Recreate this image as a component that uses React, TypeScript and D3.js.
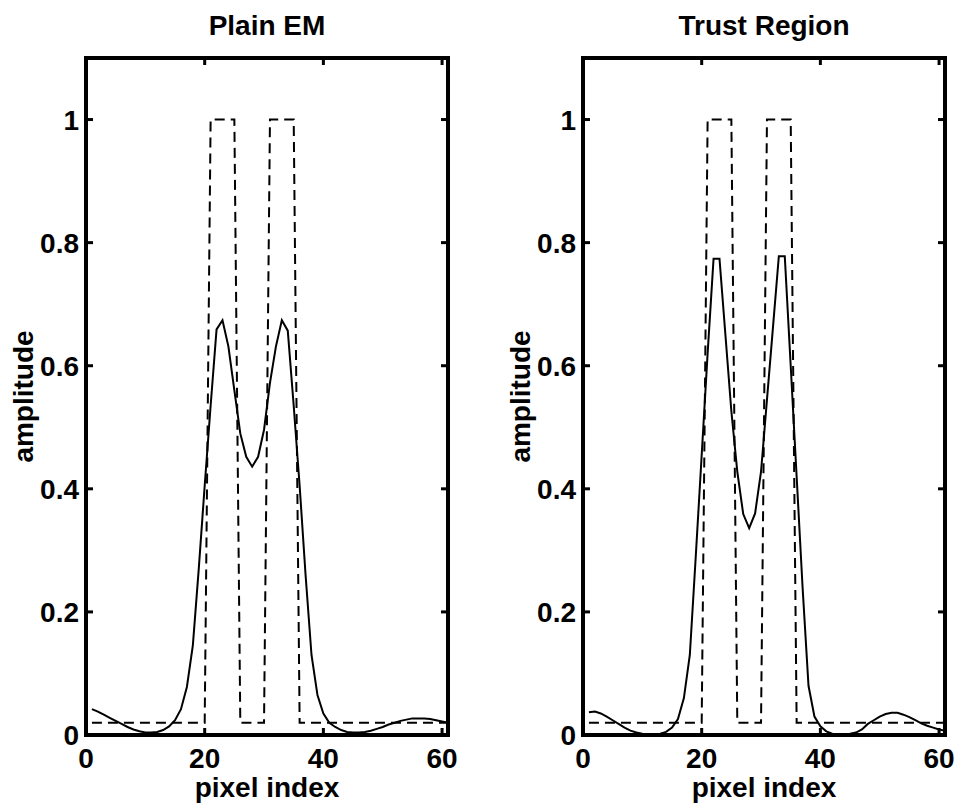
import React from 'react';
import * as d3 from 'd3';

// ---------- data ----------
const pixelIndex = [
  1, 2, 3, 4, 5, 6, 7, 8, 9, 10, 11, 12, 13, 14, 15, 16, 17, 18, 19, 20,
  21, 22, 23, 24, 25, 26, 27, 28, 29, 30, 31, 32, 33, 34, 35, 36, 37, 38, 39, 40,
  41, 42, 43, 44, 45, 46, 47, 48, 49, 50, 51, 52, 53, 54, 55, 56, 57, 58, 59, 60, 61,
];

const trueSignal = [
  0.02, 0.02, 0.02, 0.02, 0.02, 0.02, 0.02, 0.02, 0.02, 0.02,
  0.02, 0.02, 0.02, 0.02, 0.02, 0.02, 0.02, 0.02, 0.02, 0.02,
  1, 1, 1, 1, 1, 0.02, 0.02, 0.02, 0.02, 0.02,
  1, 1, 1, 1, 1, 0.02, 0.02, 0.02, 0.02, 0.02,
  0.02, 0.02, 0.02, 0.02, 0.02, 0.02, 0.02, 0.02, 0.02, 0.02,
  0.02, 0.02, 0.02, 0.02, 0.02, 0.02, 0.02, 0.02, 0.02, 0.02, 0.02,
];

const plainEM = [
  0.042, 0.038, 0.033, 0.028, 0.023, 0.018, 0.013, 0.009, 0.006, 0.004,
  0.004, 0.005, 0.008, 0.014, 0.024, 0.042, 0.078, 0.145, 0.27, 0.405,
  0.535, 0.659, 0.674, 0.631, 0.56, 0.49, 0.452, 0.436, 0.452, 0.496,
  0.572, 0.631, 0.674, 0.657, 0.535, 0.405, 0.26, 0.13, 0.065, 0.035,
  0.02, 0.013, 0.008, 0.005, 0.004, 0.004, 0.005, 0.007, 0.01, 0.013,
  0.017, 0.02, 0.023, 0.025, 0.027, 0.027, 0.027, 0.026, 0.024, 0.022, 0.02,
];

const trustRegion = [
  0.037, 0.038, 0.035, 0.03, 0.024, 0.018, 0.012, 0.007, 0.004, 0.002,
  0.001, 0.001, 0.002, 0.005, 0.012, 0.026, 0.06, 0.13, 0.29, 0.455,
  0.62, 0.774, 0.774, 0.65, 0.526, 0.428, 0.359, 0.336, 0.36, 0.428,
  0.545, 0.661, 0.778, 0.778, 0.6, 0.42, 0.24, 0.08, 0.03, 0.014,
  0.006, 0.002, 0.001, 0.001, 0.002, 0.004, 0.009, 0.018, 0.024, 0.03,
  0.034, 0.036, 0.036, 0.033, 0.029, 0.024, 0.019, 0.015, 0.012, 0.009, 0.007,
];

const panelTitles = ['Plain EM', 'Trust Region'];
const xTicks = [0, 20, 40, 60];
const yTicks = [0, 0.2, 0.4, 0.6, 0.8, 1];
const yTickLabels = ['0', '0.2', '0.4', '0.6', '0.8', '1'];
const xLabel = 'pixel index';
const yLabel = 'amplitude';

// ---------- layout ----------
const W = 959;
const H = 810;
const panelLefts = [86, 583];
const panelWidth = 362;
const plotTop = 58;
const plotBottom = 735;
const FONT = '"Liberation Sans", Arial, Helvetica, sans-serif';

function Panel({ left, title, estimate }: { left: number; title: string; estimate: number[] }) {
  const x = d3.scaleLinear().domain([0, 61]).range([left, left + panelWidth]);
  const y = d3.scaleLinear().domain([0, 1.1]).range([plotBottom, plotTop]);
  const line = d3
    .line<number>()
    .x((_, i) => x(pixelIndex[i]))
    .y((d) => y(d));
  const tickLen = 7;
  const cx = left + panelWidth / 2;
  return (
    <g>
      <path d={line(trueSignal) || ''} fill="none" stroke="#000" strokeWidth={2} strokeDasharray="10 6" />
      <path d={line(estimate) || ''} fill="none" stroke="#000" strokeWidth={2} strokeLinejoin="miter" />
      {/* ticks */}
      {xTicks.map((t) => (
        <g key={'x' + t}>
          <line x1={x(t)} x2={x(t)} y1={plotBottom} y2={plotBottom - tickLen} stroke="#000" strokeWidth={3} />
          <line x1={x(t)} x2={x(t)} y1={plotTop} y2={plotTop + tickLen} stroke="#000" strokeWidth={3} />
          <text x={x(t)} y={768} textAnchor="middle" fontFamily={FONT} fontWeight="bold" fontSize={28}>
            {t}
          </text>
        </g>
      ))}
      {yTicks.map((t, i) => (
        <g key={'y' + t}>
          <line x1={left} x2={left + tickLen} y1={y(t)} y2={y(t)} stroke="#000" strokeWidth={3} />
          <line x1={left + panelWidth} x2={left + panelWidth - tickLen} y1={y(t)} y2={y(t)} stroke="#000" strokeWidth={3} />
          <text x={left - 7} y={y(t)} dy="0.36em" textAnchor="end" fontFamily={FONT} fontWeight="bold" fontSize={28}>
            {yTickLabels[i]}
          </text>
        </g>
      ))}
      <rect x={left} y={plotTop} width={panelWidth} height={plotBottom - plotTop} fill="none" stroke="#000" strokeWidth={4} />
      <text x={cx} y={35} textAnchor="middle" fontFamily={FONT} fontWeight="bold" fontSize={28}>
        {title}
      </text>
      <text x={cx} y={797} textAnchor="middle" fontFamily={FONT} fontWeight="bold" fontSize={28}>
        {xLabel}
      </text>
      <text
        transform={`translate(${left - 53},${(plotTop + plotBottom) / 2}) rotate(-90)`}
        textAnchor="middle"
        fontFamily={FONT}
        fontWeight="bold"
        fontSize={28}
      >
        {yLabel}
      </text>
    </g>
  );
}

export default function App() {
  const estimates = [plainEM, trustRegion];
  return (
    <svg
      width={W}
      height={H}
      viewBox={`0 0 ${W} ${H}`}
      style={{ position: 'absolute', left: 0, top: 0, background: '#fff' }}
    >
      <rect x={0} y={0} width={W} height={H} fill="#fff" />
      {panelLefts.map((l, i) => (
        <Panel key={i} left={l} title={panelTitles[i]} estimate={estimates[i]} />
      ))}
    </svg>
  );
}
